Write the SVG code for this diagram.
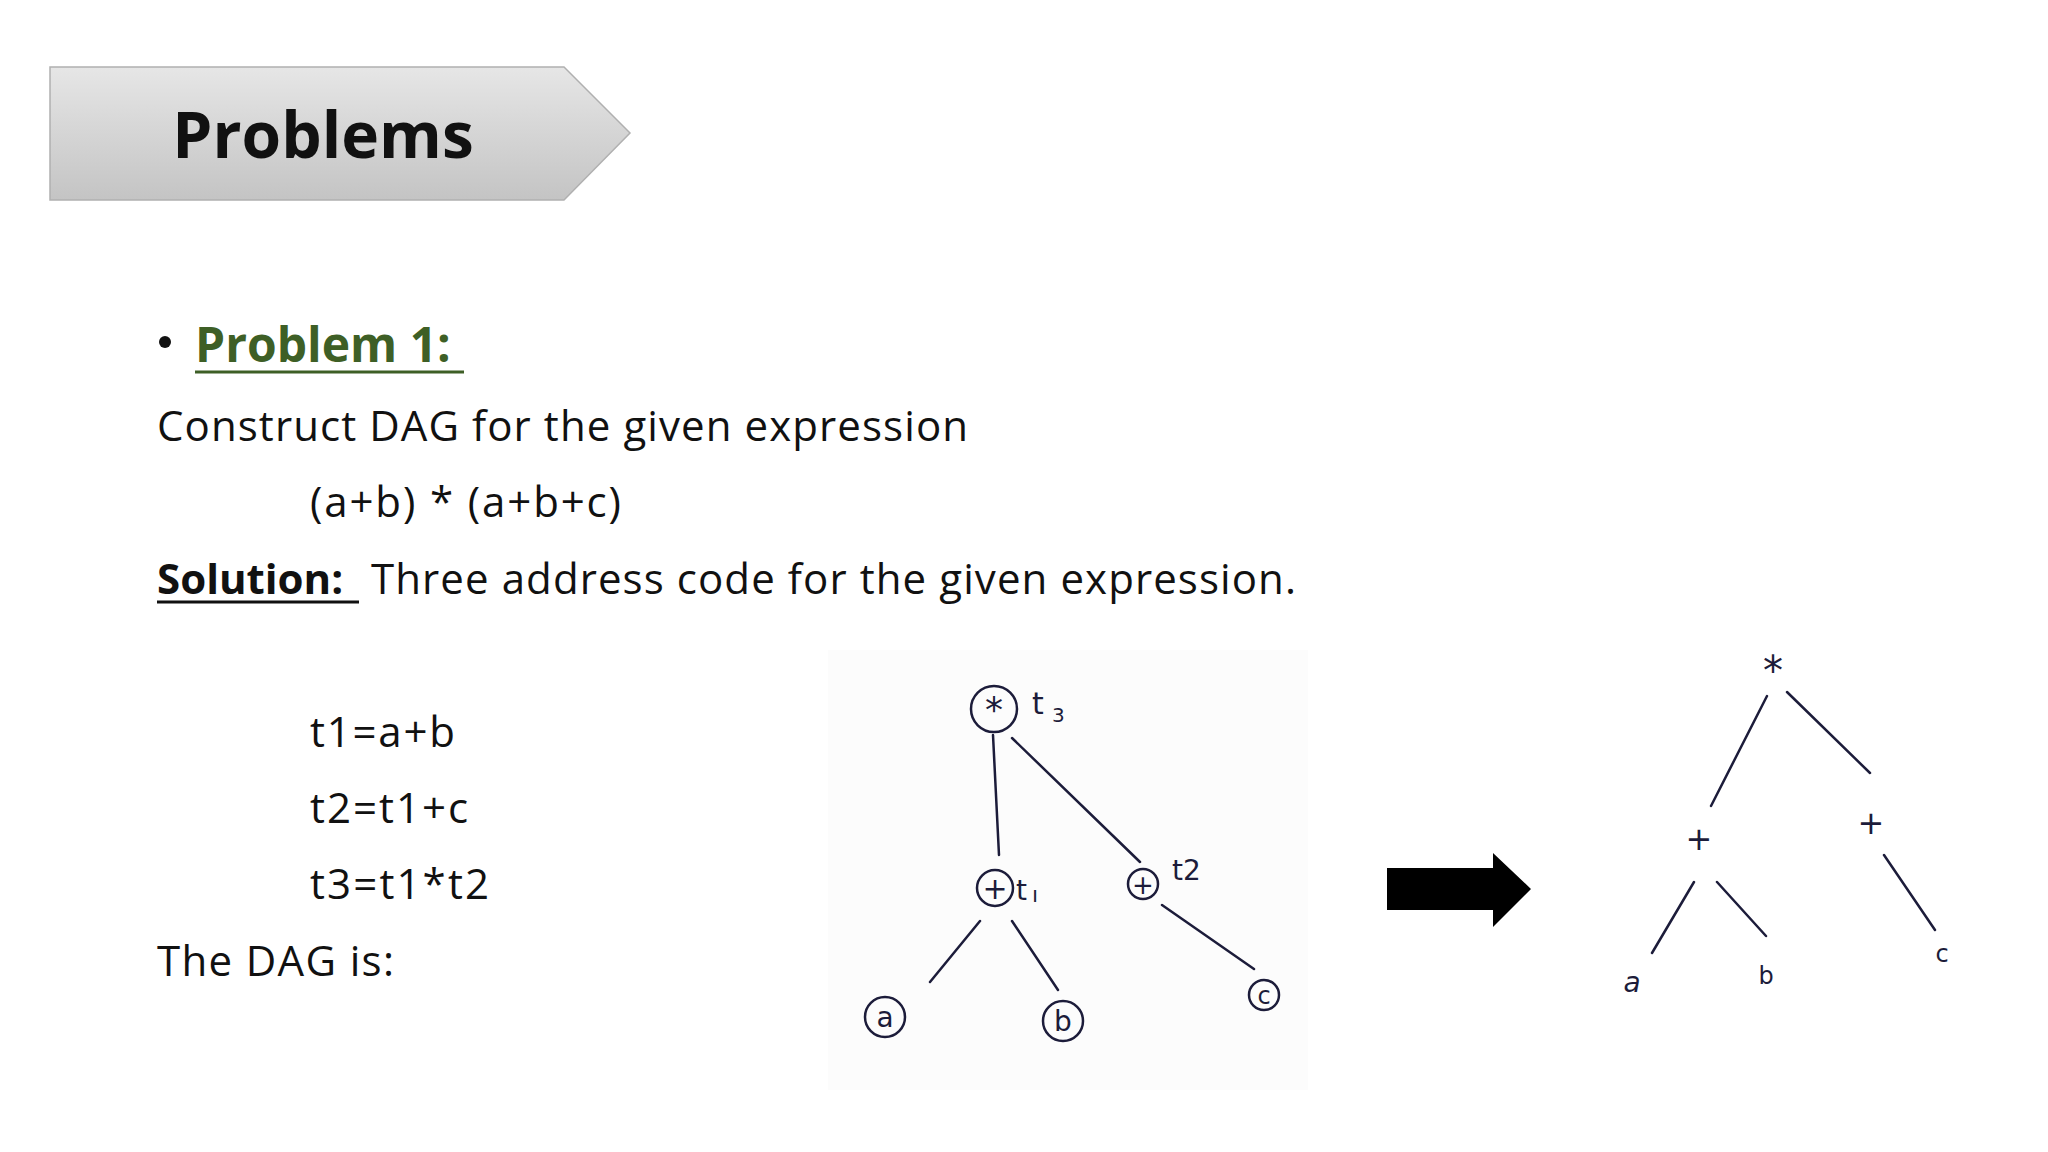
<svg xmlns="http://www.w3.org/2000/svg" width="2048" height="1152" viewBox="0 0 2048 1152">
<defs>
<linearGradient id="bg" x1="0" y1="0" x2="0" y2="1"><stop offset="0" stop-color="#e6e6e6"/><stop offset="1" stop-color="#c4c4c4"/></linearGradient>
</defs>
<style>
.t{font-family:"Open Sans","Liberation Sans",sans-serif;fill:#111}
.ink{stroke:#1c1c3a;stroke-width:2.5;fill:none;stroke-linecap:round}
.hw{font-family:"DejaVu Sans",sans-serif;fill:#1c1c3a}
</style>
<rect width="2048" height="1152" fill="#fff"/>
<g id="banner">
<polygon points="50,67 564,67 630,133 564,200 50,200" fill="url(#bg)" stroke="#b0b0b0" stroke-width="1.5"/>
<text x="323" y="158" text-anchor="middle" class="t" font-size="64" font-weight="bold">Problems</text>
</g>
<g id="text">
<circle cx="165" cy="342" r="6" fill="#111"/>
<text x="195" y="362" class="t" font-size="48" font-weight="bold" fill="#3e5f26" style="fill:#3e5f26">Problem 1:</text>
<line x1="195" y1="372" x2="464" y2="372" stroke="#3e5f26" stroke-width="3"/>
<text x="157" y="441" class="t" font-size="42" textLength="811">Construct DAG for the given expression</text>
<text x="310" y="517" class="t" font-size="42" textLength="311">(a+b) * (a+b+c)</text>
<text x="157" y="594" class="t" font-size="42" font-weight="bold">Solution:</text>
<line x1="157" y1="602" x2="359" y2="602" stroke="#111" stroke-width="3"/>
<text x="371" y="594" class="t" font-size="42" textLength="925">Three address code for the given expression.</text>
<text x="310" y="747" class="t" font-size="42" textLength="145">t1=a+b</text>
<text x="310" y="823" class="t" font-size="42" textLength="158">t2=t1+c</text>
<text x="310" y="899" class="t" font-size="42" textLength="179">t3=t1*t2</text>
<text x="157" y="976" class="t" font-size="42" textLength="237">The DAG is:</text>
</g>
<rect x="828" y="650" width="480" height="440" fill="#fcfcfc"/>
<g id="connectors">
<path class="ink" d="M993,735 L999,855 M1012,738 L1140,862 M980,921 L930,982 M1012,921 L1058,990 M1162,905 L1254,969"/>
<path class="ink" d="M1767,696 L1711,806 M1787,692 L1870,773 M1694,882 L1652,953 M1717,882 L1766,936 M1884,855 L1935,930"/>
</g>
<g id="n_t3"><circle class="ink" cx="994" cy="709" r="23"/><text x="994" y="722" text-anchor="middle" class="hw" font-size="36">*</text><text x="1032" y="714" class="hw" font-size="30">t</text><text x="1052" y="722" class="hw" font-size="20">3</text></g>
<g id="n_t1"><circle class="ink" cx="995" cy="888" r="18"/><text x="995" y="899" text-anchor="middle" class="hw" font-size="30">+</text><text x="1016" y="900" class="hw" font-size="28">t</text><text x="1032" y="902" class="hw" font-size="22">ı</text></g>
<g id="n_t2"><circle class="ink" cx="1143" cy="884" r="15"/><text x="1143" y="894" text-anchor="middle" class="hw" font-size="26">+</text><text x="1172" y="880" class="hw" font-size="28">t2</text></g>
<g id="n_a"><circle class="ink" cx="885" cy="1017" r="20"/><text x="885" y="1027" text-anchor="middle" class="hw" font-size="28">a</text></g>
<g id="n_b"><circle class="ink" cx="1063" cy="1021" r="20"/><text x="1063" y="1031" text-anchor="middle" class="hw" font-size="28">b</text></g>
<g id="n_c"><circle class="ink" cx="1264" cy="995" r="15" stroke="#3a3a7a"/><text x="1264" y="1004" text-anchor="middle" class="hw" font-size="24">c</text></g>
<g id="arrow"><polygon points="1387,868 1493,868 1493,853 1531,889 1493,927 1493,910 1387,910" fill="#000"/></g>
<g id="r_mul"><text x="1773" y="685" text-anchor="middle" class="hw" font-size="40">*</text></g>
<g id="r_p1"><text x="1699" y="850" text-anchor="middle" class="hw" font-size="32">+</text></g>
<g id="r_p2"><text x="1871" y="834" text-anchor="middle" class="hw" font-size="32">+</text></g>
<g id="r_a"><text x="1632" y="992" text-anchor="middle" class="hw" font-size="28" font-style="italic">a</text></g>
<g id="r_b"><text x="1766" y="984" text-anchor="middle" class="hw" font-size="24">b</text></g>
<g id="r_c"><text x="1942" y="962" text-anchor="middle" class="hw" font-size="24">c</text></g>
</svg>
